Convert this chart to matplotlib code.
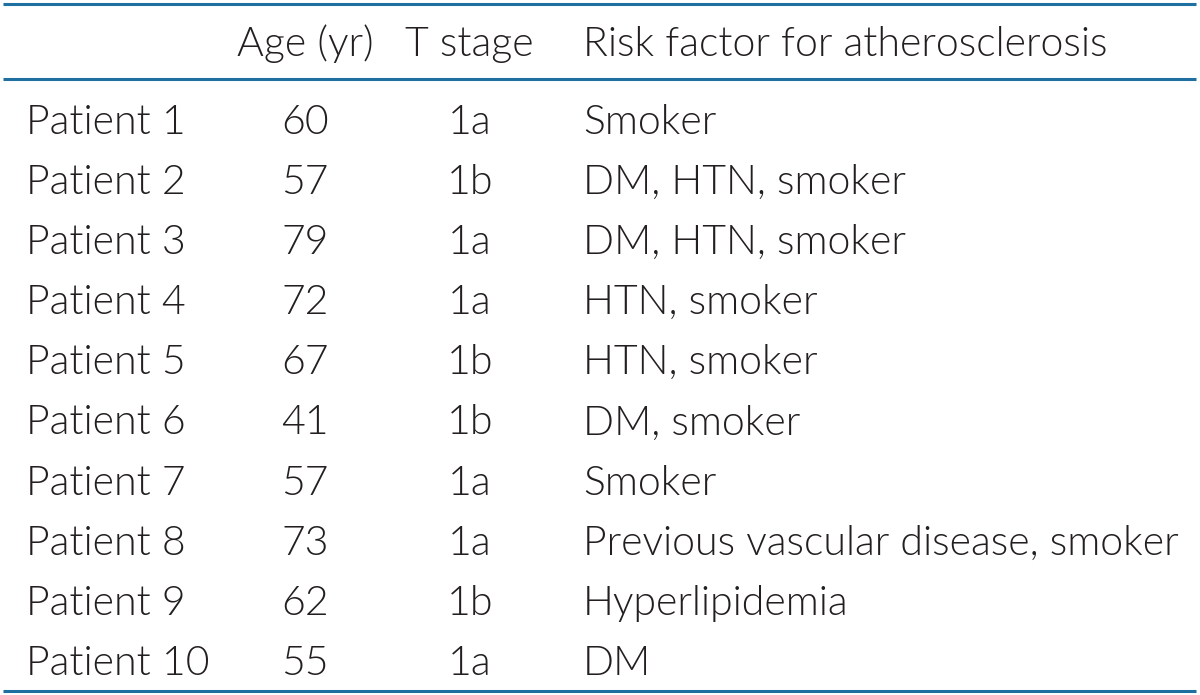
import matplotlib.pyplot as plt

patients = ["Patient 1", "Patient 2", "Patient 3", "Patient 4", "Patient 5",
            "Patient 6", "Patient 7", "Patient 8", "Patient 9", "Patient 10"]
ages = [60, 57, 79, 72, 67, 41, 57, 73, 62, 55]
t_stage = ["1a", "1b", "1a", "1a", "1b", "1b", "1a", "1a", "1b", "1a"]
risk = ["Smoker", "DM, HTN, smoker", "DM, HTN, smoker", "HTN, smoker",
        "HTN, smoker", "DM, smoker", "Smoker",
        "Previous vascular disease, smoker", "Hyperlipidemia", "DM"]
headers = ["Age (yr)", "T stage", "Risk factor for atherosclerosis"]

plt.rcParams["font.family"] = ["Lato", "DejaVu Sans"]
plt.rcParams["font.weight"] = 300
FS = 29.5
TXT = "#231f20"
LINE = "#1f6fa0"

fig = plt.figure(figsize=(12, 6.95), dpi=100)
ax = fig.add_axes([0, 0, 1, 1])
ax.set_xlim(0, 1200)
ax.set_ylim(695, 0)
ax.axis("off")

# rules
for y in (4, 79, 691):
    ax.plot([3, 1196], [y, y], color=LINE, lw=2.2, solid_capstyle="butt")

# header
hy = 56
ax.text(305, hy, headers[0], ha="center", va="baseline", fontsize=FS, color=TXT)
ax.text(469, hy, headers[1], ha="center", va="baseline", fontsize=FS, color=TXT)
ax.text(583, hy, headers[2], ha="left", va="baseline", fontsize=FS, color=TXT)

# body
y0, dy = 133.5, 60.2
for i, (p, a, t, r) in enumerate(zip(patients, ages, t_stage, risk)):
    y = y0 + i * dy
    ax.text(26, y, p, ha="left", va="baseline", fontsize=FS, color=TXT)
    ax.text(305, y, str(a), ha="center", va="baseline", fontsize=FS, color=TXT)
    ax.text(470, y, t, ha="center", va="baseline", fontsize=FS, color=TXT)
    ax.text(583, y, r, ha="left", va="baseline", fontsize=FS, color=TXT)

fig.savefig("out.png", dpi=100, facecolor="white")
